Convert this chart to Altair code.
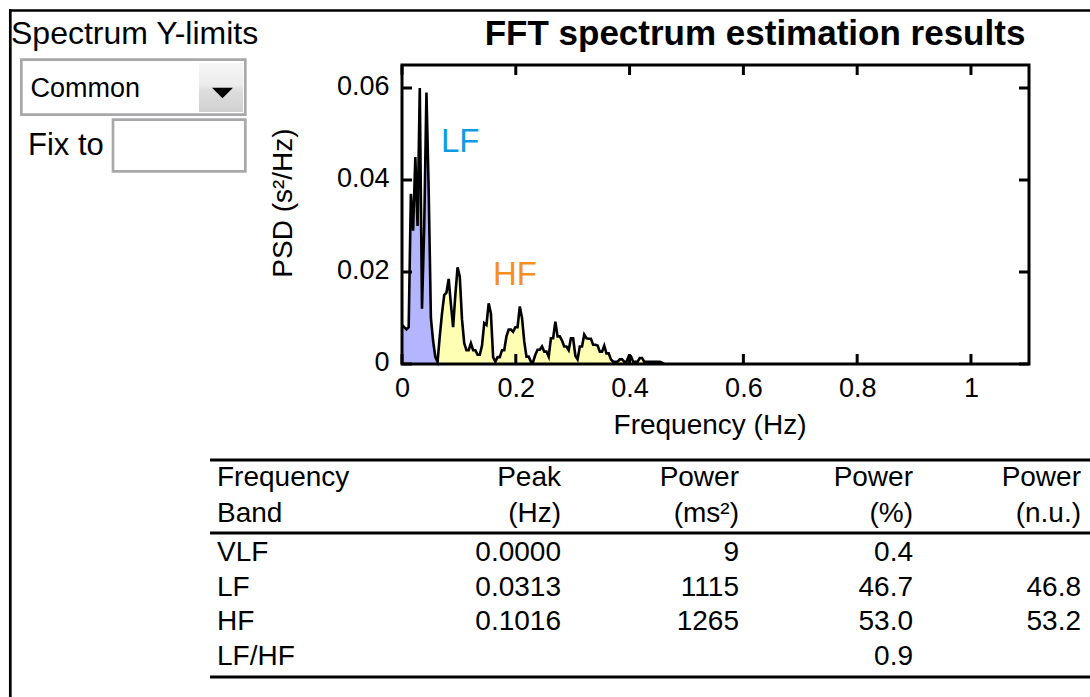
import altair as alt
import pandas as pd

FONT = "Liberation Sans"

# ---------------- data ----------------
freq_step = 1 / 256  # FFT bin spacing (Hz)
psd = [0.0085, 0.0080, 0.0075, 0.0080, 0.0370, 0.0290, 0.0450, 0.0300, 0.0600, 0.0120,
       0.0300, 0.0590, 0.0380, 0.0100, 0.0050, 0.0015, 0.0005, 0.0060, 0.0110, 0.0150,
       0.0155, 0.0185, 0.0130, 0.0080, 0.0150, 0.0210, 0.0190, 0.0097, 0.0045, 0.0030,
       0.0030, 0.0045, 0.0030, 0.0030, 0.0020, 0.0020, 0.0040, 0.0089, 0.0085, 0.0132,
       0.0110, 0.0015, 0.0005, 0.0015, 0.0015, 0.0030, 0.0030, 0.0060, 0.0075, 0.0075,
       0.0070, 0.0080, 0.0080, 0.0125, 0.0100, 0.0049, 0.0016, 0.0016, 0.0005, 0.0005,
       0.0020, 0.0031, 0.0031, 0.0038, 0.0027, 0.0027, 0.0016, 0.0056, 0.0056, 0.0092,
       0.0060, 0.0060, 0.0051, 0.0038, 0.0038, 0.0030, 0.0056, 0.0056, 0.0018, 0.0010,
       0.0038, 0.0038, 0.0064, 0.0056, 0.0055, 0.0055, 0.0042, 0.0042, 0.0040, 0.0027,
       0.0027, 0.0040, 0.0023, 0.0023, 0.0010, 0.0005, 0.0005, 0.0005, 0.0010, 0.0010,
       0.0005, 0.0005, 0.0017, 0.0017, 0.0005, 0.0005, 0.0005, 0.0013, 0.0013, 0.0005,
       0.0005, 0.0005, 0.0005, 0.0005, 0.0005, 0.0005, 0.0005, 0.0003, 0.0000]
lf_last_bin = 16          # LF band ends / HF band starts at this bin

x_ticks = [0, 0.2, 0.4, 0.6, 0.8, 1.0]
y_ticks = [0, 0.02, 0.04, 0.06]

band_labels = ["LF", "HF"]
band_label_f = [0.0685, 0.160]
band_label_psd = [0.0461, 0.0172]
band_label_colors = ["#0d9be3", "#f5901f"]

head1 = ["Frequency", "Peak", "Power", "Power", "Power"]
head2 = ["Band", "(Hz)", "(ms²)", "(%)", "(n.u.)"]
band_names = ["VLF", "LF", "HF", "LF/HF"]
peak_hz = ["0.0000", "0.0313", "0.1016", ""]
power_ms2 = ["9", "1115", "1265", ""]
power_pct = ["0.4", "46.7", "53.0", "0.9"]
power_nu = ["", "46.8", "53.2", ""]

# ---------------- tables ----------------
spec = pd.DataFrame({"k": list(range(len(psd))),
                     "f": [i * freq_step for i in range(len(psd))],
                     "psd": psd})
xt = pd.DataFrame({"f": x_ticks})
yt = pd.DataFrame({"psd": y_ticks})
ann = pd.DataFrame({"f": band_label_f, "psd": band_label_psd,
                    "t": band_labels, "c": band_label_colors})

rows = [head1, head2] + [list(r) for r in zip(band_names, peak_hz, power_ms2, power_pct, power_nu)]
recs = []
for r, vals in enumerate(rows):
    for c, t in enumerate(vals):
        if t:
            recs.append({"row": r, "col": c, "t": t})
tbl = pd.DataFrame(recs)
dummy = pd.DataFrame({"d": [0]})

W, H = 627, 299
XS = alt.Scale(domain=[0, 1.102], nice=False, zero=False)
YS = alt.Scale(domain=[0, 0.065], nice=False, zero=False)
XAX = alt.Axis(values=x_ticks, format="~g", title=None, labelPadding=11,
               labelFlush=False, labelOverlap=False)
YAX = alt.Axis(values=y_ticks, format="~g", title=None, labelPadding=13,
               labelOffset=-2, labelOverlap=False)

def X(field="f"):
    return alt.X(f"{field}:Q", scale=XS, axis=XAX)

def Y(field="psd"):
    return alt.Y(f"{field}:Q", scale=YS, axis=YAX, stack=None)

# ---------------- spectrum ----------------
lf_area = alt.Chart(spec).transform_filter(f"datum.k <= {lf_last_bin}").mark_area(
    color="#b4b4ff", opacity=1).encode(x=X(), y=Y())
hf_area = alt.Chart(spec).transform_filter(f"datum.k >= {lf_last_bin}").mark_area(
    color="#ffffb4", opacity=1).encode(x=X(), y=Y())
line = alt.Chart(spec).mark_line(color="black", strokeWidth=2.6).encode(x=X(), y=Y())

tb = alt.Chart(xt).mark_rule(color="black", strokeWidth=3).encode(
    x=X(), y=alt.value(H), y2=alt.value(H - 10))
tt = alt.Chart(xt).mark_rule(color="black", strokeWidth=3).encode(
    x=X(), y=alt.value(0), y2=alt.value(10))
tl = alt.Chart(yt).mark_rule(color="black", strokeWidth=3).encode(
    y=Y(), x=alt.value(0), x2=alt.value(10))
tr = alt.Chart(yt).mark_rule(color="black", strokeWidth=3).encode(
    y=Y(), x=alt.value(W), x2=alt.value(W - 10))

frame = alt.Chart(dummy).mark_rect(fill="white", fillOpacity=0, stroke="black",
                                   strokeWidth=3).encode(
    x=alt.value(0), x2=alt.value(W), y=alt.value(0), y2=alt.value(H))

ann_layer = alt.Chart(ann).mark_text(align="left", baseline="alphabetic", font=FONT,
                                     fontSize=33).encode(
    x=X(), y=Y(), text="t:N", color=alt.Color("c:N", scale=None))


def txt(s, x, y, size, align="left", weight="normal", angle=0, baseline="alphabetic"):
    return alt.Chart(dummy).mark_text(text=s, align=align, baseline=baseline, font=FONT,
                                      fontSize=size, fontWeight=weight, angle=angle,
                                      color="black").encode(x=alt.value(x), y=alt.value(y))


def box(x1, x2, y1, y2, stroke, sw, fill):
    return alt.Chart(dummy).mark_rect(stroke=stroke, strokeWidth=sw, fill=fill).encode(
        x=alt.value(x1), x2=alt.value(x2), y=alt.value(y1), y2=alt.value(y2))


def hrule(x1, x2, y, sw=3, color="black"):
    return alt.Chart(dummy).mark_rule(color=color, strokeWidth=sw).encode(
        x=alt.value(x1), x2=alt.value(x2), y=alt.value(y))


def vrule(x, y1, y2, sw=3, color="black"):
    return alt.Chart(dummy).mark_rule(color=color, strokeWidth=sw).encode(
        x=alt.value(x), y=alt.value(y1), y2=alt.value(y2))


title = txt("FFT spectrum estimation results", 353, -20, 35, align="center", weight="bold")
xtitle = txt("Frequency (Hz)", 308, 369, 28, align="center")
ytitle = txt("PSD (s²/Hz)", -118, 138, 28, align="center", angle=270, baseline="middle")

# GUI panel elements
outer_top = hrule(-393, 690, -54.5, sw=2.7)
outer_left = vrule(-391.7, -56, 640, sw=2.7)
ylim_lbl = txt("Spectrum Y-limits", -391, -21.5, 32)
dd_box = box(-380.7, -156.7, -5.3, 49.7, "#a8a8aa", 2.7, "white")
grad = {"gradient": "linear", "x1": 0, "y1": 0, "x2": 0, "y2": 1,
        "stops": [{"offset": 0, "color": "#f6f6f6"}, {"offset": 0.45, "color": "#ececec"},
                  {"offset": 0.55, "color": "#dedede"}, {"offset": 1, "color": "#d0d0d0"}]}
dd_btn = alt.Chart(dummy).mark_rect(fill=grad).encode(
    x=alt.value(-203), x2=alt.value(-159), y=alt.value(-2), y2=alt.value(47))
dd_arrow = alt.Chart(dummy).mark_point(shape="M-1,-0.5L1,-0.5L0,0.5Z", size=441,
                                       filled=True, color="black", opacity=1).encode(
    x=alt.value(-179.5), y=alt.value(28))
common_lbl = txt("Common", -371.5, 32.3, 27)
fix_lbl = txt("Fix to", -374, 90, 31)
fix_box = box(-289, -156.7, 54.7, 106.3, "#a8a8aa", 2.7, "white")

# results table
tr_top = hrule(-192, 690, 395)
tr_mid = hrule(-192, 690, 468)
tr_bot = hrule(-192, 690, 612)
tbl_base = alt.Chart(tbl).transform_calculate(
    px="[-185, 159, 337, 511, 679][datum.col]",
    py="[421, 457, 496, 531, 565, 600][datum.row]")
tbl_left = tbl_base.transform_filter("datum.col == 0").mark_text(
    align="left", baseline="alphabetic", font=FONT, fontSize=28, color="black").encode(
    x=alt.X("px:Q", scale=None, axis=None), y=alt.Y("py:Q", scale=None, axis=None), text="t:N")
tbl_right = tbl_base.transform_filter("datum.col > 0").mark_text(
    align="right", baseline="alphabetic", font=FONT, fontSize=28, color="black").encode(
    x=alt.X("px:Q", scale=None, axis=None), y=alt.Y("py:Q", scale=None, axis=None), text="t:N")

chart = alt.layer(
    lf_area, hf_area, line, tb, tt, tl, tr, frame, ann_layer,
    title, xtitle, ytitle,
    outer_top, outer_left, ylim_lbl, dd_box, dd_btn, dd_arrow, common_lbl, fix_lbl, fix_box,
    tr_top, tr_mid, tr_bot, tbl_left, tbl_right,
).properties(
    width=W, height=H,
    autosize=alt.AutoSizeParams(type="none"),
    padding={"left": 402, "top": 65, "right": 1090 - 402 - W, "bottom": 697 - 65 - H},
    background="white",
).configure_view(stroke=None).configure_axis(
    labelFont=FONT, labelFontSize=27, labelColor="black", ticks=False, tickSize=0,
    domain=False, grid=False,
)

chart.save("out.html", embed_options={"renderer": "svg", "actions": False})
